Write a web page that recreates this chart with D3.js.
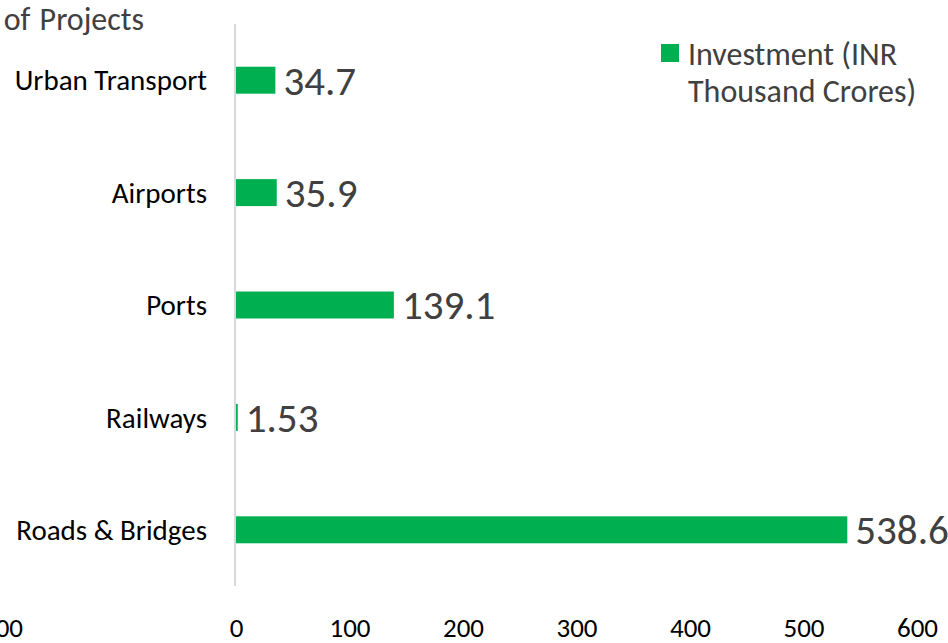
<!DOCTYPE html>
<html>
<head>
<meta charset="utf-8">
<script src="https://cdn.jsdelivr.net/npm/d3@7/dist/d3.min.js"></script>
<style>
  html, body { margin: 0; padding: 0; background: #fff; overflow: hidden; }
  svg { display: block; font-family: Carlito, Lato, "Open Sans", sans-serif; }
</style>
</head>
<body>
<svg id="chart" width="948" height="643"></svg>
<script>
const categories = ["Urban Transport", "Airports", "Ports", "Railways", "Roads & Bridges"];
const investment = [34.7, 35.9, 139.1, 1.53, 538.6];
const valueLabels = ["34.7", "35.9", "139.1", "1.53", "538.6"];
const tickValues = [-200, 0, 100, 200, 300, 400, 500, 600];
const tickLabels = ["200", "0", "100", "200", "300", "400", "500", "600"];
const seriesName = ["Investment (INR", "Thousand Crores)"];
const leftAxisTitle = "Number of Projects";

const svg = d3.select("#chart");
const green = "#00B050";

const x = d3.scaleLinear().domain([0, 600]).range([236, 917]);
const y = d3.scaleBand().domain(categories).range([24, 586]).paddingInner(0.76).paddingOuter(0.38);

// vertical axis line
svg.append("line")
  .attr("x1", x(0) - 1).attr("x2", x(0) - 1)
  .attr("y1", 24).attr("y2", 586)
  .attr("stroke", "#d9d9d9").attr("stroke-width", 2);

// bars
svg.selectAll("rect.bar").data(categories).join("rect")
  .attr("class", "bar")
  .attr("x", x(0))
  .attr("y", d => y(d))
  .attr("width", (d, i) => Math.max(0, x(investment[i]) - x(0)))
  .attr("height", y.bandwidth())
  .attr("fill", green);

// data labels
svg.selectAll("text.val").data(categories).join("text")
  .attr("class", "val")
  .attr("x", (d, i) => x(investment[i]) + 8)
  .attr("y", d => y(d) + y.bandwidth() / 2)
  .attr("dy", "0.35em")
  .attr("font-size", 41)
  .attr("fill", "#404040")
  .text((d, i) => valueLabels[i]);

// category labels
svg.selectAll("text.cat").data(categories).join("text")
  .attr("class", "cat")
  .attr("x", 207)
  .attr("y", d => y(d) + y.bandwidth() / 2)
  .attr("dy", "0.35em")
  .attr("text-anchor", "end")
  .attr("font-size", 29)
  .attr("fill", "#000")
  .text(d => d);

// bottom axis
const axis = d3.axisBottom(x)
  .tickValues(tickValues)
  .tickSize(0)
  .tickFormat((d, i) => tickLabels[i]);
const gx = svg.append("g").attr("transform", "translate(0,637)").call(axis);
gx.select(".domain").remove();
gx.attr("font-family", null).attr("font-size", null);
gx.selectAll("text").attr("font-size", 27).attr("fill", "#000")
  .attr("y", 0).attr("dy", 0)
  .attr("dx", d => d < 0 ? -7 : 0);

// left axis title (cropped)
svg.append("text")
  .attr("x", 144).attr("y", 30)
  .attr("text-anchor", "end")
  .attr("font-size", 32)
  .attr("word-spacing", 2)
  .attr("fill", "#404040")
  .text(leftAxisTitle);

// legend
svg.append("rect").attr("x", 661).attr("y", 44).attr("width", 18).attr("height", 18).attr("fill", green);
svg.selectAll("text.leg").data(seriesName).join("text")
  .attr("class", "leg")
  .attr("x", 688)
  .attr("y", (d, i) => 65 + i * 37)
  .attr("font-size", 32)
  .attr("fill", "#404040")
  .text(d => d);
</script>
</body>
</html>
